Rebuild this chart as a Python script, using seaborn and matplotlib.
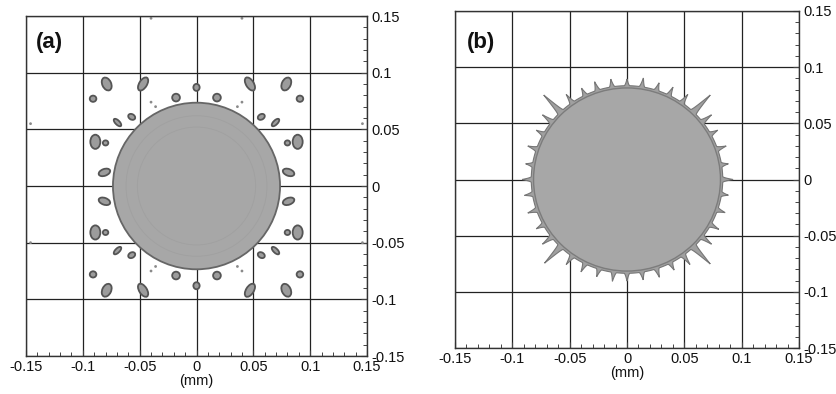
import numpy as np
import matplotlib
matplotlib.use("Agg")
import matplotlib.pyplot as plt
from matplotlib.patches import Ellipse, Circle, Polygon
from matplotlib.ticker import MultipleLocator
import seaborn as sns

sns.set_style("white")
plt.rcParams['font.family'] = ['Liberation Sans', 'DejaVu Sans']

# ---------------- data ----------------
ticks = [-0.15, -0.1, -0.05, 0, 0.05, 0.1, 0.15]
tick_labels = ["-0.15", "-0.1", "-0.05", "0", "0.05", "0.1", "0.15"]
x_label = "(mm)"
panel_labels = ["(a)", "(b)"]

# panel (a): central droplet and satellite droplets (centre x, y, major, minor, angle)
core_a_radius = 0.0735
sat_x = [-0.079, -0.047, 0.000, -0.018, 0.018, 0.047, 0.079, -0.091, 0.091,
         -0.057, -0.0695, 0.057, 0.0695, -0.089, -0.080, 0.089, 0.080, -0.081, 0.081,
         -0.079, -0.047, 0.000, -0.018, 0.018, 0.047, 0.079, -0.091, 0.091,
         -0.057, -0.0695, 0.057, 0.0695, -0.089, -0.080, 0.089, 0.080, -0.081, 0.081]
sat_y = [0.090, 0.090, 0.087, 0.078, 0.078, 0.090, 0.090, 0.077, 0.077,
         0.061, 0.056, 0.061, 0.056, 0.039, 0.038, 0.039, 0.038, 0.012, 0.012,
         -0.092, -0.092, -0.088, -0.079, -0.079, -0.092, -0.092, -0.078, -0.078,
         -0.061, -0.057, -0.061, -0.057, -0.041, -0.041, -0.041, -0.041, -0.0135, -0.0135]
sat_w = [0.012, 0.013, 0.0062, 0.0068, 0.0068, 0.013, 0.012, 0.0058, 0.0058,
         0.0065, 0.0085, 0.0065, 0.0085, 0.0125, 0.0048, 0.0125, 0.0048, 0.0105, 0.0105,
         0.012, 0.013, 0.0062, 0.0068, 0.0068, 0.013, 0.012, 0.0058, 0.0058,
         0.0065, 0.0085, 0.0065, 0.0085, 0.0125, 0.0048, 0.0125, 0.0048, 0.0105, 0.0105]
sat_h = [0.0078, 0.0068, 0.0055, 0.0068, 0.0068, 0.0068, 0.0078, 0.0055, 0.0055,
         0.0048, 0.0038, 0.0048, 0.0038, 0.0088, 0.0045, 0.0088, 0.0045, 0.0060, 0.0060,
         0.0078, 0.0068, 0.0055, 0.0068, 0.0068, 0.0068, 0.0078, 0.0055, 0.0055,
         0.0048, 0.0038, 0.0048, 0.0038, 0.0088, 0.0045, 0.0088, 0.0045, 0.0060, 0.0060]
sat_angle = [115, 58, 90, 0, 0, 122, 65, 0, 0,
             150, 135, 30, 45, 90, 0, 90, 0, 20, 160,
             65, 122, 90, 0, 0, 58, 115, 0, 0,
             30, 45, 150, 135, 90, 0, 90, 0, 160, 20]
# tiny specks in panel (a)
speck_x = [-0.036, -0.040, 0.036, 0.040, -0.036, -0.040, 0.036, 0.040, -0.146, 0.146, -0.146, 0.146, -0.040, 0.040]
speck_y = [0.070, 0.074, 0.070, 0.074, -0.071, -0.075, -0.071, -0.075, 0.055, 0.055, -0.050, -0.050, 0.148, 0.148]

# panel (b): central droplet with spiky rim
core_b_radius = 0.0835
spike_angle = [0, 9, 19, 29, 38, 46, 55, 64, 72, 81, 90, 99, 108, 116, 125, 134, 142,
               151, 161, 171, 180, 189, 199, 209, 218, 226, 235, 244, 253, 262, 270,
               279, 288, 297, 306, 314, 322, 331, 341, 351]
spike_len = [0.009, 0.006, 0.008, 0.007, 0.010, 0.021, 0.009, 0.008, 0.007, 0.008, 0.006,
             0.007, 0.008, 0.007, 0.009, 0.021, 0.010, 0.007, 0.008, 0.006, 0.008,
             0.007, 0.008, 0.007, 0.010, 0.020, 0.009, 0.008, 0.007, 0.008, 0.007,
             0.007, 0.008, 0.007, 0.010, 0.021, 0.010, 0.008, 0.007, 0.006]

# ---------------- figure ----------------
fig = plt.figure(figsize=(8.36, 3.94), dpi=100)
ax_a = fig.add_axes([26 / 836, 1 - 356 / 394, 341 / 836, 340 / 394])
ax_b = fig.add_axes([455 / 836, 1 - 348 / 394, 344 / 836, 337 / 394])

FILL = "#a7a7a7"
EDGE = "#555555"


def style_axes(ax, label, lx, ly):
    ax.set_xlim(-0.15, 0.15)
    ax.set_ylim(-0.15, 0.15)
    ax.set_xticks(ticks)
    ax.set_xticklabels(tick_labels)
    ax.set_yticks(ticks)
    ax.set_yticklabels(tick_labels)
    ax.xaxis.set_minor_locator(MultipleLocator(0.01))
    ax.yaxis.set_minor_locator(MultipleLocator(0.01))
    ax.yaxis.tick_right()
    ax.tick_params(which="both", direction="in", top=False, left=False,
                   bottom=True, right=True, colors="#444444", labelcolor="#111111",
                   labelsize=10.5)
    ax.tick_params(which="major", length=4, width=0.8, pad=3)
    ax.tick_params(which="minor", length=3, width=0.7)
    for lab in ax.get_yticklabels():
        lab.set_horizontalalignment("left")
    ax.grid(True, which="major", color="#222222", linewidth=0.9, zorder=0)
    ax.set_axisbelow(True)
    for s in ax.spines.values():
        s.set_color("#333333")
        s.set_linewidth(1.0)
        s.set_zorder(5)
    ax.set_xlabel(x_label, fontsize=10.5, labelpad=0, color="#111111")
    ax.set_ylabel("")
    ax.text(lx, ly, label, fontsize=16, fontweight="bold", ha="left", va="center",
            zorder=10, color="#111111")


# panel (a)
ax = ax_a
core = Circle((0, 0), core_a_radius, facecolor=FILL, edgecolor="#666666",
              linewidth=1.3, zorder=2)
ax.add_patch(core)
for rr in [0.062, 0.052]:
    ax.add_patch(Circle((0, 0), rr, facecolor="none", edgecolor="#a0a0a0",
                        linewidth=0.6, zorder=2))
for x, y, w, h, a in zip(sat_x, sat_y, sat_w, sat_h, sat_angle):
    ax.add_patch(Ellipse((x, y), w, h, angle=a, facecolor="#9c9c9c",
                         edgecolor=EDGE, linewidth=1.3, zorder=2))
sns.scatterplot(x=speck_x, y=speck_y, ax=ax, s=4, color="#8a8a8a",
                edgecolor="none", zorder=2, legend=False)
style_axes(ax, panel_labels[0], -0.141, 0.127)

# panel (b)
ax = ax_b
theta = np.linspace(0, 2 * np.pi, 2881)
r = np.full_like(theta, core_b_radius)
for ang, ln in zip(spike_angle, spike_len):
    d = np.angle(np.exp(1j * (theta - np.deg2rad(ang))))
    hw = np.deg2rad(1.5 + 40 * ln)
    bump = ln * np.clip(1 - np.abs(d) / hw, 0, None) ** 1.8
    r = np.maximum(r, core_b_radius + bump)
outline = np.column_stack([r * np.cos(theta), r * np.sin(theta)])
ax.add_patch(Polygon(outline, closed=True, facecolor="#a0a0a0",
                     edgecolor="#767676", linewidth=0.8, zorder=2))
ax.add_patch(Circle((0, 0), core_b_radius - 0.002, facecolor=FILL,
                    edgecolor="#7c7c7c", linewidth=1.0, zorder=2))
style_axes(ax, panel_labels[1], -0.140, 0.122)

fig.savefig("out.png", dpi=100)
